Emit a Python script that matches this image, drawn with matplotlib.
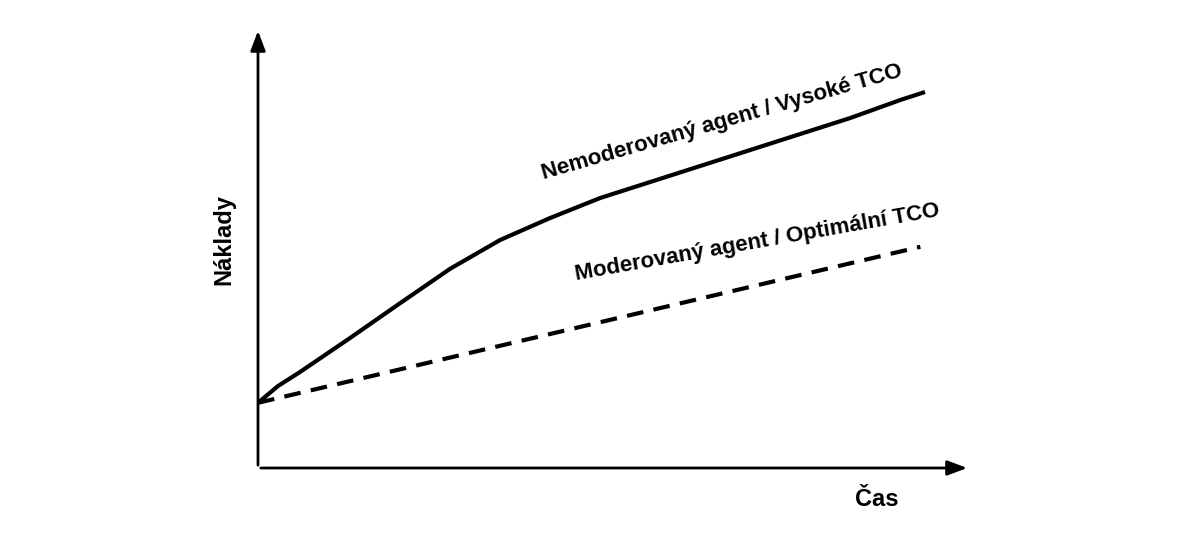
import matplotlib
import matplotlib.pyplot as plt
import numpy as np

matplotlib.use('agg')
plt.rcParams['font.family'] = ['Liberation Sans', 'DejaVu Sans']

# time vs cost (arbitrary units)
t_high = [0, 0.3, 0.63, 1.38, 2.13, 2.88, 3.63, 4.38, 5.13, 5.88, 6.63, 7.38, 8.13, 8.88, 9.63, 10.0]
cost_high = [1.63, 2.05, 2.4, 3.25, 4.12, 4.98, 5.7, 6.25, 6.75, 7.15, 7.55, 7.95, 8.35, 8.75, 9.2, 9.4]
t_opt = [0, 9.93]
cost_opt = [1.63, 5.53]

fig = plt.figure(figsize=(12, 5.37), dpi=100)
ax = fig.add_axes([258 / 1200, 69 / 537, 712 / 1200, 440 / 537])
ax.set_xlim(0, 712 / 66.7)
ax.set_ylim(0, 11)
ax.axis('off')

ax.plot(t_high, cost_high, color='black', lw=3, solid_capstyle='butt', solid_joinstyle='round')
ax.plot(t_opt, cost_opt, color='black', lw=3, ls=(0, (4, 2.5)))

arrow = dict(arrowstyle='-|>,head_length=1.2,head_width=0.45', color='black', lw=2)
ax.annotate('', xy=(1, 0), xytext=(0, 0), xycoords='axes fraction', arrowprops=arrow)
ax.annotate('', xy=(0, 1), xytext=(0, 0), xycoords='axes fraction', arrowprops=arrow)

fig.text(224 / 1200, 1 - 240 / 537, 'Náklady', rotation=90, ha='center', va='center',
         fontsize=17, fontweight='bold')
fig.text(877 / 1200, 1 - 500 / 537, 'Čas', ha='center', va='center',
         fontsize=17, fontweight='bold')
fig.text(722 / 1200, 1 - 122 / 537, 'Nemoderovaný agent / Vysoké TCO', rotation=16,
         ha='center', va='center', fontsize=16, fontweight='bold')
fig.text(757 / 1200, 1 - 243 / 537, 'Moderovaný agent / Optimální TCO', rotation=10,
         ha='center', va='center', fontsize=16, fontweight='bold')

fig.savefig('out.png', dpi=100, facecolor='white')
